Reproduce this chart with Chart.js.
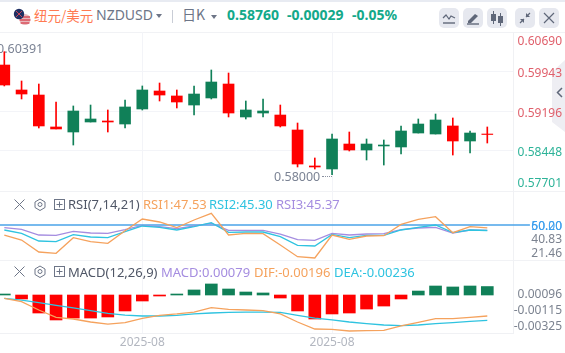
<!DOCTYPE html>
<html>
<head>
<meta charset="utf-8">
<script src="https://cdn.jsdelivr.net/npm/chart.js@4"></script>
<style>
  html, body { margin: 0; padding: 0; background: #fff; }
  body { width: 565px; height: 353px; overflow: hidden; position: relative; font-family: "Noto Sans", sans-serif; }
  .abs { position: absolute; white-space: nowrap; }
  canvas { position: absolute; left: 0; }
  .btn { position: absolute; top: 8px; width: 20px; height: 20px; border-radius: 5px; background: #e6e8ef; }
  .btn svg { display: block; }
  .head { font-size: 14px; line-height: 20px; top: 5px; }
  .num { font-weight: 700; color: #13a98a; }
  .leg { font-size: 13px; line-height: 16px; }
  .sep { position: absolute; left: 0; width: 565px; height: 1px; background: #f1f2f5; }
</style>
</head>
<body>
<div class="abs" style="left:0;top:0;width:565px;height:2px;background:#e8ebf2"></div>
<div class="sep" style="top:32px"></div>
<div class="sep" style="top:191px"></div>
<div class="sep" style="top:260px"></div>
<div class="abs" style="left:552px;top:60px;width:13px;height:72px;background:#eeeef3;clip-path:polygon(100% 0,0 12px,0 62px,100% 100%)"></div>

<canvas id="mainChart" width="565" height="159" style="top:32px"></canvas>
<canvas id="rsiChart" width="565" height="69" style="top:191px"></canvas>
<canvas id="macdChart" width="565" height="93" style="top:260px"></canvas>

<!-- header -->
<svg class="abs" style="left:13px;top:8px" width="18" height="18" viewBox="0 0 18 18">
  <circle cx="12" cy="11.5" r="5.5" fill="#e8b9bd"/>
  <path d="M7 9h10M6.6 12h10.8M7.6 15h8.8" stroke="#d9505c" stroke-width="1.4"/>
  <circle cx="6" cy="6" r="5.2" fill="#1f2f63"/>
  <path d="M3 3l6 6M9 3l-6 6" stroke="#c9475a" stroke-width="1"/>
</svg>
<div class="abs head" style="left:34px;font-size:13.500px;color:#ff7a52;font-family:'Noto Sans CJK SC'">纽元/美元</div>
<div class="abs head" style="left:96px;color:#6d7587">NZDUSD</div>
<svg class="abs" style="left:156px;top:14px" width="6" height="4"><path d="M0 0h6L3 4z" fill="#6d7587"/></svg>
<div class="abs" style="left:172px;top:10px;width:1px;height:13px;background:#c9cdd6"></div>
<div class="abs head" style="left:182px;top:4px;color:#6d7587;font-family:'Noto Sans CJK SC'">日K</div>
<svg class="abs" style="left:211px;top:15px" width="6" height="4"><path d="M0 0h6L3 4z" fill="#6d7587"/></svg>
<div class="abs head num" style="left:227px">0.58760</div>
<div class="abs head num" style="left:287px">-0.00029</div>
<div class="abs head num" style="left:352px">-0.05%</div>

<div class="btn" style="left:439px"><svg width="20" height="20"><path d="M4 10l3-3 3 4 2-3 4 2" fill="none" stroke="#5f6779" stroke-width="1.2"/><path d="M4 15h12" stroke="#5f6779" stroke-width="1.4"/></svg></div>
<div class="btn" style="left:463px"><svg width="20" height="20"><path d="M5 13l7-7 3 2-7 7H5z" fill="#5f6779"/><path d="M4 16h12" stroke="#5f6779" stroke-width="1.4"/></svg></div>
<div class="btn" style="left:487px"><svg width="20" height="20"><path d="M4 6h5v7H4zM11 8h5v7h-5z" fill="#5f6779"/><path d="M6.500 3v13M13.500 5v13" stroke="#5f6779"/></svg></div>
<div class="btn" style="left:515px"><svg width="20" height="20"><path d="M15 5l-4 4M5 15l4-4" stroke="#5f6779" stroke-width="1.2"/><path d="M11 5v4h4zM9 15v-4H5z" fill="#5f6779"/></svg></div>
<div class="btn" style="left:539px"><svg width="20" height="20"><path d="M5 5l10 10M15 5L5 15" stroke="#5f6779" stroke-width="1.2"/></svg></div>

<svg class="abs" style="left:556px;top:87px" width="7" height="11"><path d="M6 1L1.500 5.500 6 10" fill="none" stroke="#5f6779" stroke-width="1.500"/></svg>

<div class="abs" style="left:-3px;top:41px;font-size:12.500px;line-height:16px;color:#7b8394">0.60391</div>
<div class="abs" style="left:274px;top:169px;font-size:12.500px;line-height:16px;color:#7b8394">0.58000</div>
<div class="abs" style="left:322px;top:176px;width:10px;border-top:1px dotted #8a90a0"></div>

<!-- pane titles -->
<svg class="abs" style="left:13px;top:198px" width="54" height="13">
  <path d="M1.500 1.500l10 10M11.500 1.500l-10 10" stroke="#6d7587" stroke-width="1"/>
  <path d="M27 1l5 3v5.500l-5 3-5-3V4z" fill="none" stroke="#6d7587"/><circle cx="27" cy="6.500" r="2" fill="none" stroke="#6d7587"/>
  <rect x="41.500" y="1.500" width="10" height="10" fill="none" stroke="#6d7587"/><path d="M46.500 3.500v6M43.500 6.500h6" stroke="#6d7587"/>
</svg>
<div class="abs leg" style="left:68px;top:196px;color:#4f5666">RSI(7,14,21)</div>
<div class="abs leg" style="left:143px;top:196px;color:#f5a25d">RSI1:47.53</div>
<div class="abs leg" style="left:209px;top:196px;color:#2fc3e0">RSI2:45.30</div>
<div class="abs leg" style="left:276px;top:196px;color:#a58de0">RSI3:45.37</div>

<svg class="abs" style="left:13px;top:265px" width="54" height="13">
  <path d="M1.500 1.500l10 10M11.500 1.500l-10 10" stroke="#6d7587" stroke-width="1"/>
  <path d="M27 1l5 3v5.500l-5 3-5-3V4z" fill="none" stroke="#6d7587"/><circle cx="27" cy="6.500" r="2" fill="none" stroke="#6d7587"/>
  <rect x="41.500" y="1.500" width="10" height="10" fill="none" stroke="#6d7587"/><path d="M46.500 3.500v6M43.500 6.500h6" stroke="#6d7587"/>
</svg>
<div class="abs leg" style="left:68px;top:264px;color:#4f5666">MACD(12,26,9)</div>
<div class="abs leg" style="left:161px;top:264px;color:#a58de0">MACD:0.00079</div>
<div class="abs leg" style="left:254px;top:264px;color:#f5a25d">DIF:-0.00196</div>
<div class="abs leg" style="left:334px;top:264px;color:#2fc3e0">DEA:-0.00236</div>

<script>
// daily candles
const opens  = [0.60073,0.59601,0.59506,0.58902,0.58807,0.58996,0.59015,0.58958,0.59242,0.59582,0.59488,0.59317,0.5945,0.59714,0.59091,0.59166,0.59128,0.58845,0.58165,0.58108,0.5858,0.58467,0.58543,0.58524,0.58788,0.58769,0.58921,0.58637,0.58769];
const highs  = [0.60325,0.59771,0.59714,0.59374,0.59299,0.59317,0.59223,0.59412,0.59677,0.59733,0.59601,0.59677,0.59979,0.59922,0.59393,0.59431,0.59317,0.58977,0.58316,0.58769,0.58807,0.58675,0.58656,0.58921,0.59053,0.59147,0.59072,0.58826,0.58902];
const lows   = [0.59677,0.59431,0.58883,0.58864,0.58561,0.58996,0.58807,0.58883,0.59223,0.59393,0.59261,0.59128,0.59431,0.59091,0.59053,0.59091,0.58902,0.58146,0.58108,0.58000,0.58448,0.58278,0.58183,0.58391,0.58788,0.58769,0.58372,0.5841,0.58599];
const closes = [0.59695,0.59525,0.58921,0.58864,0.59204,0.59053,0.58996,0.5928,0.59601,0.59506,0.59374,0.59525,0.59752,0.59166,0.59223,0.59204,0.58921,0.58202,0.58146,0.58675,0.58467,0.5858,0.58561,0.58826,0.58958,0.59034,0.58637,0.58788,0.5876];

const rsi1 = [41.45,37.18,26.92,25.78,39.17,35.75,34.33,45.16,55.13,52.57,47.72,54.28,59.98,41.45,42.88,42.59,32.9,22.93,21.79,41.45,37.76,40.6,40.88,50.57,54.85,57.13,43.45,48.58,47.53];
const rsi2 = [45.73,42.88,36.32,35.75,41.74,39.74,39.17,44.3,49.15,48.01,45.73,48.58,52.0,43.73,44.02,44.02,40.03,32.62,32.05,42.02,39.17,41.17,41.17,45.73,48.01,50,43.45,45.73,45.3];
const rsi3 = [47.72,46.3,41.45,41.17,44.59,43.16,42.88,46.01,49.72,48.58,46.87,49.15,51.43,45.44,45.44,45.44,42.3,37.46,36.89,42.88,41.45,42.3,42.59,46.01,47.44,48.01,43.16,45.73,45.37];
const rsiLevel = 50;

const macdHist = [0.00003,-0.00037,-0.00168,-0.00233,-0.00215,-0.00215,-0.00205,-0.00149,-0.00056,-0.00009,0.00009,0.00047,0.00103,0.00056,0.00028,0.00019,-0.00028,-0.00149,-0.00224,-0.00177,-0.00168,-0.00131,-0.00103,-0.00037,0.00037,0.00084,0.00075,0.00084,0.00079];
const dif = [-0.00031,-0.00062,-0.0014,-0.00208,-0.00224,-0.00252,-0.00271,-0.00258,-0.00218,-0.0019,-0.00177,-0.00159,-0.00118,-0.00134,-0.0014,-0.00146,-0.00177,-0.00252,-0.00317,-0.0032,-0.00336,-0.00333,-0.0033,-0.00289,-0.00255,-0.00221,-0.00221,-0.00208,-0.00196];
const dea = [-0.00031,-0.00047,-0.00072,-0.00096,-0.00121,-0.00146,-0.00171,-0.00187,-0.00196,-0.00196,-0.0019,-0.00177,-0.00168,-0.00162,-0.00159,-0.00159,-0.00162,-0.0019,-0.00215,-0.00233,-0.00252,-0.00267,-0.0028,-0.00286,-0.0028,-0.00267,-0.00258,-0.00246,-0.00236];

// tick labels and where they sit (the app pushes some labels inward, so position and text differ)
const mainTickPos = [0.60546,0.59943,0.59196,0.58448,0.57862];
const mainTickLabels = ['0.60690','0.59943','0.59196','0.58448','0.57701'];
const rsiTickPos = [50,50,38.9,27.35];
const rsiTickLabels = ['60.20','50.00','40.83','21.46'];
const macdTickPos = [0.000187,-0.0013,-0.00275];
const macdTickLabels = ['0.00096','-0.00115','-0.00325'];
const dateTicks = [8,19];
const dateLabel = '2025-08';

const RED = '#ff0000', GREEN = '#108058';
const GRID = '#f3f4f8', AXIS = '#f0f1f4';
const tickFont = { family: 'Noto Sans', size: 12 };
const xMin = -0.25, xMax = 29.49;
const levelEnd = 30.47; // the 50 line runs on to its label, past the plot edge

const points = arr => arr.map((v, i) => ({ x: i, y: v }));
const lineSet = (arr, color) => ({
  type: 'line', data: points(arr), borderColor: color, borderWidth: 1.3,
  pointRadius: 0, tension: 0, order: 0
});

// no edge padding, the panes have to fill their canvas
function noPadding (axis) {
  axis.paddingTop = 0;
  axis.paddingBottom = 0;
  axis.paddingLeft = 0;
  axis.paddingRight = 0;
}

function xAxis (showLabels) {
  return {
    type: 'linear', min: xMin, max: xMax, offset: false,
    afterBuildTicks: axis => { axis.ticks = dateTicks.map(v => ({ value: v })) },
    afterFit: axis => { axis.height = showLabels ? 20 : 0; noPadding(axis) },
    grid: { color: GRID, offset: false, drawTicks: false },
    border: { display: showLabels, color: AXIS },
    ticks: {
      display: showLabels, autoSkip: false, maxRotation: 0, padding: 2,
      color: '#b3b7c0', font: { family: 'Noto Sans', size: 12 },
      callback: () => dateLabel
    }
  };
}

function yAxis (min, max, pos, labels, color, showGrid) {
  return {
    position: 'right', min: min, max: max,
    afterBuildTicks: axis => { axis.ticks = pos.map(v => ({ value: v })) },
    afterFit: axis => { axis.width = 49; noPadding(axis) },
    grid: {
      display: !!showGrid, drawTicks: false,
      color: ctx => (ctx.index > 0 && ctx.index < pos.length - 1) ? GRID : 'transparent'
    },
    border: { display: true, color: AXIS },
    ticks: {
      autoSkip: false, padding: 4, font: tickFont, color: color, crossAlign: 'far', labelOffset: 2,
      callback: (v, i) => labels[i]
    }
  };
}

function makeChart (id, datasets, x, y) {
  return new Chart(document.getElementById(id), {
    type: 'bar',
    data: { datasets: datasets },
    options: {
      responsive: false, animation: false,
      layout: { padding: { right: 3 } },
      plugins: { legend: { display: false }, tooltip: { enabled: false } },
      scales: { x: x, y: y }
    }
  });
}

const candleColors = closes.map((c, i) => c >= opens[i] ? GREEN : RED);

makeChart('mainChart', [
  {
    data: lows.map((l, i) => ({ x: i, y: [l, highs[i]] })),
    backgroundColor: candleColors, barThickness: 1, grouped: false, order: 2
  },
  {
    data: opens.map((o, i) => ({ x: i, y: [o, closes[i]] })),
    backgroundColor: candleColors, barThickness: 11, grouped: false, order: 1
  }
], xAxis(false), yAxis(0.57692, 0.60697, mainTickPos, mainTickLabels,
  ctx => ctx.index < 3 ? '#e0606c' : '#2db398', true));

makeChart('rsiChart', [
  lineSet(rsi1, '#f5a25d'),
  lineSet(rsi2, '#2fc3e0'),
  lineSet(rsi3, '#a58de0'),
  { type: 'line', data: [{ x: xMin, y: rsiLevel }, { x: levelEnd, y: rsiLevel }], borderColor: '#4aa3e8', borderWidth: 1.3, pointRadius: 0, order: 0, clip: false }
], xAxis(false), yAxis(20.09, 79.06, rsiTickPos, rsiTickLabels,
  ctx => ctx.index < 2 ? '#3ea0ee' : '#7c8390'));

makeChart('macdChart', [
  {
    data: points(macdHist), backgroundColor: macdHist.map(v => v >= 0 ? GREEN : RED),
    barThickness: 12, grouped: false, order: 1, minBarLength: 1
  },
  lineSet(dif, '#f5a25d'),
  lineSet(dea, '#2fc3e0')
], xAxis(true), yAxis(-0.003545, 0.003266, macdTickPos, macdTickLabels, '#7c8390'));
</script>
</body>
</html>
